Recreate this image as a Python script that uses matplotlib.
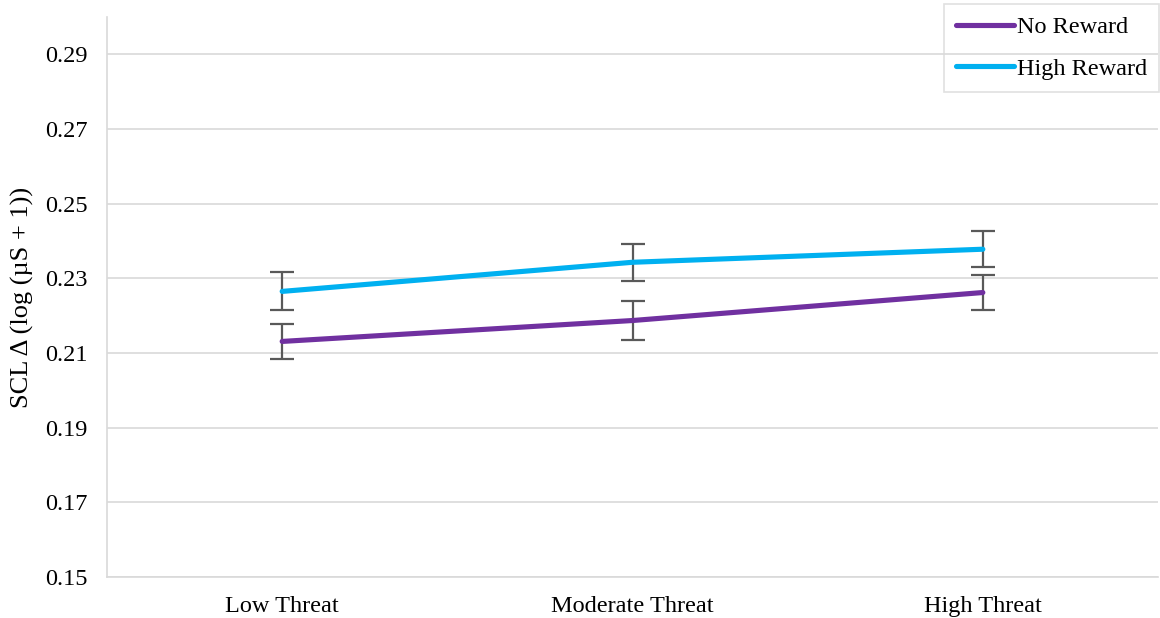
import matplotlib.pyplot as plt

conditions = ['Low Threat', 'Moderate Threat', 'High Threat']
no_reward = [0.2131, 0.2187, 0.2262]
no_reward_err = [0.0048, 0.0053, 0.0048]
high_reward = [0.2265, 0.2343, 0.2378]
high_reward_err = [0.0051, 0.0050, 0.0048]
y_ticks = [0.15, 0.17, 0.19, 0.21, 0.23, 0.25, 0.27, 0.29]

plt.rcParams['font.family'] = ['Liberation Serif', 'DejaVu Serif']

fig = plt.figure(figsize=(11.6, 6.18), dpi=100)
ax = fig.add_axes([107 / 1160, 41 / 618, 1051 / 1160, 560 / 618])

x = range(len(conditions))
err_style = dict(ecolor='#595959', elinewidth=1.6, capsize=8.5, capthick=1.6)
ax.errorbar(x, no_reward, yerr=no_reward_err, color='#7030A0', lw=3.7,
            solid_capstyle='round', label='No Reward', zorder=3, **err_style)
ax.errorbar(x, high_reward, yerr=high_reward_err, color='#00B0F0', lw=3.7,
            solid_capstyle='round', label='High Reward', zorder=3, **err_style)

ax.set_xlim(-0.5, 2.5)
ax.set_ylim(0.15, 0.30)
ax.set_yticks(y_ticks)
ax.set_yticklabels([f'{v:.2f}' for v in y_ticks])
ax.set_xticks(list(x))
ax.set_xticklabels(conditions)
ax.tick_params(length=0, labelsize=17.5, colors='#000000')
ax.tick_params(axis='x', pad=14)
ax.tick_params(axis='y', pad=14)
ax.grid(axis='y', color='#D9D9D9', lw=1.2, zorder=0)

for side in ['top', 'right']:
    ax.spines[side].set_visible(False)
for side in ['left', 'bottom']:
    ax.spines[side].set_color('#D9D9D9')
    ax.spines[side].set_linewidth(1.2)

fig.text(22 / 1160, 1 - 297 / 618, 'SCL Δ (log (µS + 1))', fontsize=19,
         rotation=90, ha='center', va='center')

# legend handles without error bar markers
handles, labels = ax.get_legend_handles_labels()
handles = [h[0] for h in handles]
leg = fig.legend(handles, labels, loc='upper right',
                 bbox_to_anchor=(1159 / 1160, 1 - 4 / 618),
                 fontsize=17.5, frameon=True, fancybox=False, handlelength=2.4,
                 handletextpad=0.1, borderpad=0.5, labelspacing=0.8,
                 borderaxespad=0.0)
leg.get_frame().set_facecolor('none')
leg.get_frame().set_edgecolor('#D9D9D9')
leg.get_frame().set_linewidth(1.2)

fig.savefig('out.png', dpi=100)
